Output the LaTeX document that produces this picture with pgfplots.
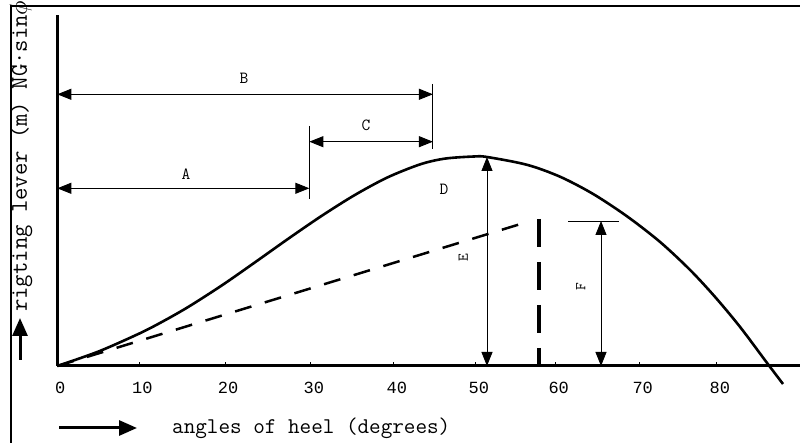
\documentclass[border=0pt]{standalone}
\usepackage{fontspec}
\newfontfamily\tickfont{Liberation Mono}
\usepackage{pgfplots}
\pgfplotsset{compat=1.18}
\usetikzlibrary{arrows.meta}
\tikzset{
  dim/.style={line width=0.9pt, {Triangle[length=14pt,width=11pt]}-{Triangle[length=14pt,width=11pt]}},
  lbl/.style={font=\ttfamily\fontsize{17}{17}\selectfont, inner sep=0pt}
}
\begin{document}
\begin{tikzpicture}[x=1pt,y=1pt]
\useasboundingbox (0,0) rectangle (800,443);
% frame
\draw[line width=2pt] (11,-5) -- (11,437) -- (805,437);
% y label and arrow
\draw[line width=3pt,-{Triangle[length=18pt,width=15pt]}] (20,83) -- (20,125);
\node[rotate=90,anchor=west,inner sep=0pt,font=\ttfamily\fontsize{24}{24}\selectfont] at (21,131) {rigting lever (m) NG·sin$\phi$};
% x label and arrow
\draw[line width=3pt,-{Triangle[length=18pt,width=15pt]}] (59,15) -- (137,15);
\node[anchor=west,inner sep=0pt,font=\ttfamily\fontsize{22.5}{22.5}\selectfont] at (172,15) {angles of heel (degrees)};
\begin{axis}[
  at={(57.3pt,77pt)}, anchor=origin,
  scale only axis, width=742.7pt, height=351pt,
  xmin=0, xmax=90.02, ymin=0, ymax=3.51,
  axis x line=bottom, axis y line=left,
  axis line style={-, line width=3pt},
  clip=false,
  ytick=\empty,
  xtick={0,9.94,20.33,30.72,40.78,50.72,60.41,70.59,79.93},
  xticklabels={0,10,20,30,40,50,60,70,80},
  xtick align=inside,
  major tick length=4pt,
  tick style={line width=0.8pt, black},
  xticklabel style={font=\tickfont\fontsize{17}{17}\selectfont, xshift=3pt, yshift=-13pt},
]
% righting lever curve
\addplot[line width=2.6pt, smooth] coordinates {
 (0,0) (5,0.145) (10,0.327) (13,0.455) (16,0.597) (20,0.809) (24,1.039)
 (28,1.273) (32,1.499) (36,1.707) (40,1.885) (44,2.017) (47,2.074)
 (50.5,2.095) (52.08,2.090) (56.93,2.012) (60.93,1.893) (64.93,1.721)
 (69.05,1.497) (73.05,1.241) (76.69,0.961) (79.72,0.691) (82.75,0.391)
 (86.02,0.031) (87.96,-0.18)
};
% dashed tangent line
\addplot[line width=2.5pt, dash pattern=on 17pt off 14pt] coordinates {(0,0) (56.67,1.433)};
% dashed vertical
\addplot[line width=3.5pt, dash pattern=on 28pt off 15pt] coordinates {(58.38,1.47) (58.38,0)};
% dimension lines
\draw[dim] (axis cs:0,2.717) -- (axis cs:45.53,2.717);
\draw[line width=0.9pt] (axis cs:45.53,2.82) -- (axis cs:45.53,2.17);
\draw[dim] (axis cs:30.55,2.243) -- (axis cs:45.53,2.243);
\draw[dim] (axis cs:0,1.777) -- (axis cs:30.55,1.777);
\draw[line width=0.9pt] (axis cs:30.55,2.40) -- (axis cs:30.55,1.667);
\draw[dim] (axis cs:52.08,2.09) -- (axis cs:52.08,0);
\draw[dim] (axis cs:65.9,1.45) -- (axis cs:65.9,0);
\draw[line width=0.9pt] (axis cs:61.9,1.45) -- (axis cs:68.08,1.45);
% labels
\node[lbl] at (axis cs:22.63,2.88) {B};
\node[lbl] at (axis cs:37.42,2.41) {C};
\node[lbl] at (axis cs:15.6,1.92) {A};
\node[lbl] at (axis cs:46.87,1.77) {D};
\node[lbl, rotate=90, font=\ttfamily\fontsize{15}{15}\selectfont] at (axis cs:49.2,1.08) {E};
\node[lbl, rotate=90, font=\ttfamily\fontsize{15}{15}\selectfont] at (axis cs:63.44,0.793) {F};
\end{axis}
\end{tikzpicture}
\end{document}
